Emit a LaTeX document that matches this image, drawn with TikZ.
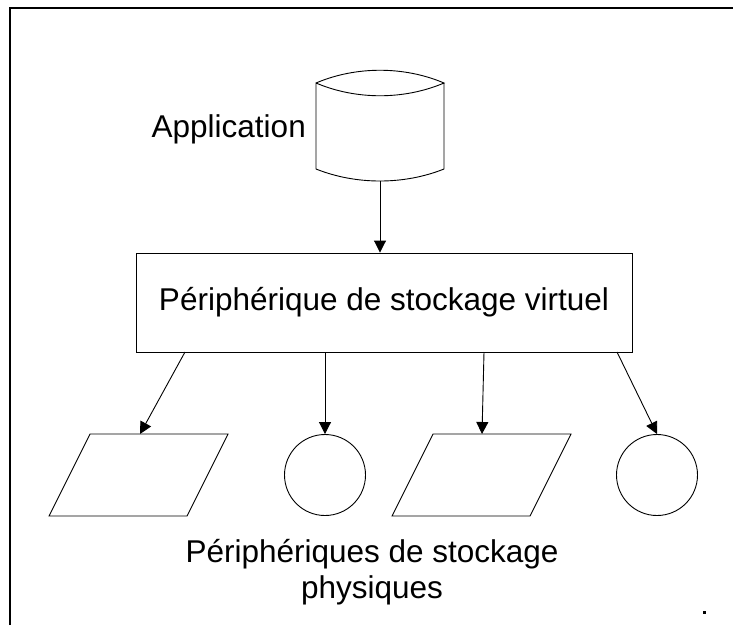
\documentclass[tikz,border=0pt]{standalone}
\usepackage{fontspec}
\setmainfont{Liberation Sans}
\usetikzlibrary{arrows.meta,shapes.geometric,calc}
\begin{document}
\begin{tikzpicture}[x=1pt,y=-1pt,
  shape line/.style={draw=black,line width=0.9pt},
  conn/.style={draw=black,line width=0.9pt,-{Triangle[length=12pt,width=12pt]}},
  txt/.style={font=\fontsize{31.5}{36}\selectfont,inner sep=0pt},
  disk/.style={shape line,circle,minimum size=81pt,inner sep=0pt}]
\useasboundingbox (0,0) rectangle (733,625);
% frame
\draw[line width=2pt] (10,625) -- (10,8) -- (733,8);
\fill (703,611) rectangle (706,614);
% cylinder (application)
\draw[shape line] (316,83) .. controls (356,66) and (404,66) .. (444,83)
  .. controls (404,100) and (356,100) .. (316,83) -- (316,169)
  .. controls (356,185) and (404,185) .. (444,169) -- (444,83);
\node[inner sep=0pt,minimum width=128pt,minimum height=109pt] (app) at (380,126) {};
\node[txt,anchor=base east] (applbl) at (306,137) {Application};
% virtual device
\node[shape line,minimum width=496pt,minimum height=99pt,inner sep=0pt,txt] (virt) at (384,302.5) {Périphérique de stockage virtuel};
% physical devices: parallelograms
\draw[shape line] (90,434) -- (228,434) -- (187,516) -- (49,516) -- cycle;
\coordinate (p1) at (140,434);
\draw[shape line] (433,434) -- (571,434) -- (530,516) -- (392,516) -- cycle;
\coordinate (p2) at (482,434);
\node[disk] (c1) at (325,475) {};
\node[disk] (c2) at (657,475) {};
% connectors
\draw[conn] (app.south) -- (app.south |- virt.north);
\coordinate (s1) at (185,352);
\coordinate (s3) at (484,352);
\coordinate (s4) at (617,352);
\draw[conn] (s1) -- (p1);
\draw[conn] (c1.north |- virt.south) -- (c1.north);
\draw[conn] (s3) -- (p2);
\draw[conn] (s4) -- (c2.north);
% caption
\node[txt,align=center,anchor=base] (cap) at (372,598) {Périphériques de stockage\\physiques};
\end{tikzpicture}
\end{document}
